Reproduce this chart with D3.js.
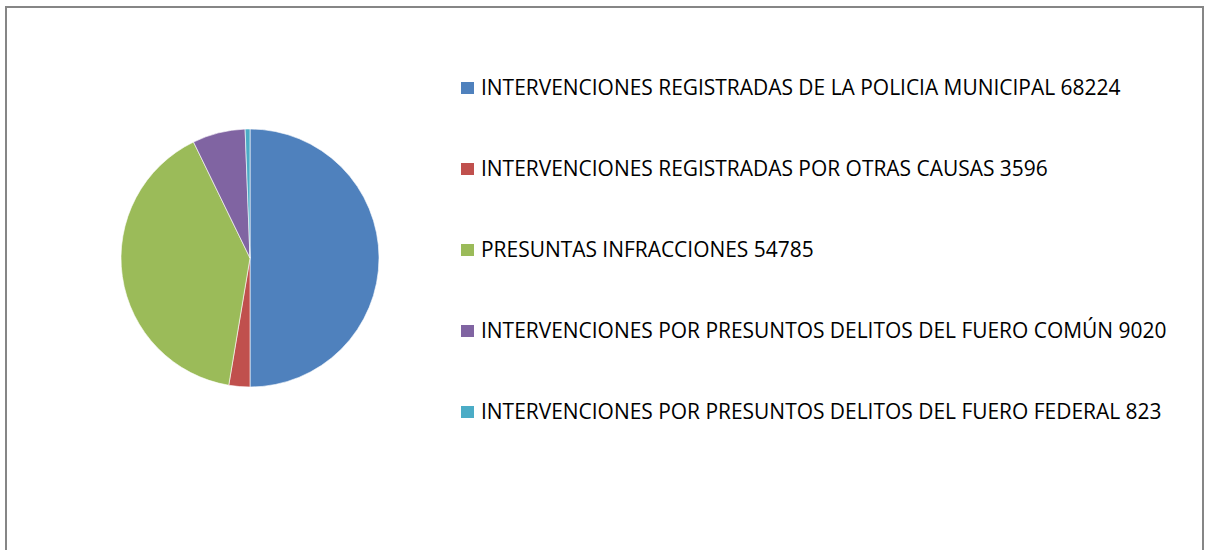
<!DOCTYPE html>
<html>
<head>
<meta charset="utf-8">
<script src="https://cdn.jsdelivr.net/npm/d3@7"></script>
<style>
  body { margin: 0; background: #fff; }
</style>
</head>
<body>
<script>
var categories = [
  'INTERVENCIONES REGISTRADAS DE LA POLICIA MUNICIPAL',
  'INTERVENCIONES REGISTRADAS POR OTRAS CAUSAS',
  'PRESUNTAS INFRACCIONES',
  'INTERVENCIONES POR PRESUNTOS DELITOS DEL FUERO COMÚN',
  'INTERVENCIONES POR PRESUNTOS DELITOS DEL FUERO FEDERAL'
];
var values = [68224, 3596, 54785, 9020, 823];
var colors = ['#4F81BD', '#C0504D', '#9BBB59', '#8064A2', '#4BACC6'];

var width = 1208;
var height = 550;
var fontFamily = 'Open Sans, sans-serif';

var svg = d3.select('body')
  .append('svg')
  .attr('width', width)
  .attr('height', height);

// chart frame (bottom edge is outside the picture)
svg.append('rect')
  .attr('x', 6)
  .attr('y', 7)
  .attr('width', 1197)
  .attr('height', 600)
  .attr('fill', 'none')
  .attr('stroke', '#868686')
  .attr('stroke-width', 2);

var pieData = d3.pie().sort(null)(values);
var arc = d3.arc().innerRadius(0).outerRadius(129);

svg.append('g')
  .attr('transform', 'translate(250,258)')
  .selectAll('path')
  .data(pieData)
  .enter()
  .append('path')
  .attr('d', arc)
  .attr('fill', function(d, i) { return colors[i]; })
  .attr('stroke', '#fff')
  .attr('stroke-width', 0.6);

var legendY = d3.scalePoint()
  .domain(d3.range(categories.length))
  .range([88, 412]);

var legend = svg.selectAll('g.legend')
  .data(categories)
  .enter()
  .append('g')
  .classed('legend', true)
  .attr('transform', function(d, i) {
    return 'translate(461,' + legendY(i) + ')';
  });

legend.append('rect')
  .attr('x', 0)
  .attr('y', -6)
  .attr('width', 13)
  .attr('height', 12)
  .attr('fill', function(d, i) { return colors[i]; });

var labels = legend.append('text')
  .attr('x', 20)
  .attr('y', 7)
  .attr('font-family', fontFamily)
  .attr('font-size', '18px')
  .attr('fill', '#000')
  .text(function(d, i) { return d + ' ' + values[i]; });

// fit font size so the first label spans like the reference (~640px)
var w0 = labels.node().getComputedTextLength();
var fs = 18 * 640 / w0;
labels.attr('font-size', fs + 'px');
</script>
</body>
</html>
